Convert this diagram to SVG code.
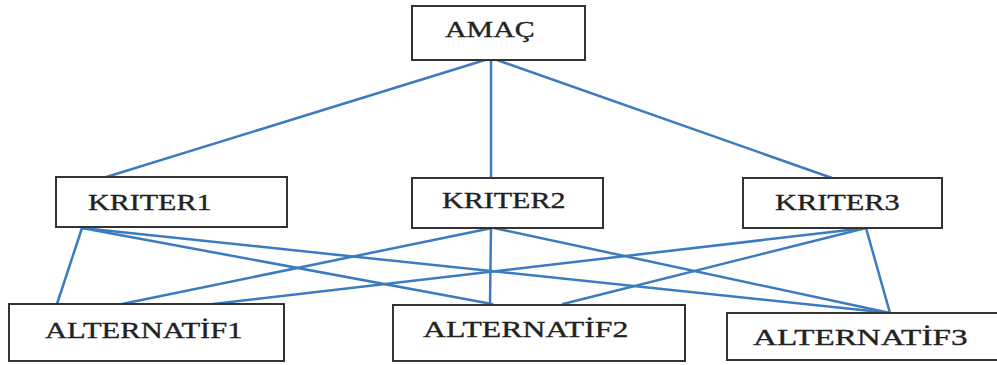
<svg xmlns="http://www.w3.org/2000/svg" width="997" height="365" viewBox="0 0 997 365">
<style>
.box{fill:#fff;stroke:#333;stroke-width:2}
.lbl{font-family:"Liberation Serif","Times New Roman",serif;font-size:23px;fill:#222;stroke:#222;stroke-width:0.35}
.alt{font-size:24px}
.edge{stroke:#3a7cbf;stroke-width:2.5;fill:none;stroke-linecap:round}
</style>
<rect width="997" height="365" fill="#fff"/>
<g id="connectors">
<line class="edge" x1="485" y1="60" x2="103" y2="178"/>
<line class="edge" x1="491" y1="60" x2="491" y2="178"/>
<line class="edge" x1="497" y1="60" x2="832" y2="178"/>
<line class="edge" x1="82" y1="228" x2="57" y2="304"/>
<line class="edge" x1="82" y1="228" x2="492" y2="304"/>
<line class="edge" x1="82" y1="228" x2="890" y2="313"/>
<line class="edge" x1="492" y1="228" x2="122" y2="304"/>
<line class="edge" x1="491" y1="228" x2="490" y2="304"/>
<line class="edge" x1="494" y1="228" x2="890" y2="313"/>
<line class="edge" x1="866" y1="228" x2="213" y2="304"/>
<line class="edge" x1="866" y1="228" x2="563" y2="304"/>
<line class="edge" x1="866" y1="228" x2="890" y2="313"/>
</g>
<g id="amac"><rect class="box" x="412" y="6" width="173" height="54"/><text class="lbl" transform="translate(445,37) scale(1.3,1)" textLength="69" lengthAdjust="spacingAndGlyphs">AMAÇ</text></g>
<g id="kriter1"><rect class="box" x="56" y="177" width="231" height="50"/><text class="lbl" transform="translate(88,210) scale(1.3,1)" textLength="95" lengthAdjust="spacingAndGlyphs">KRITER1</text></g>
<g id="kriter2"><rect class="box" x="412" y="178" width="191" height="50"/><text class="lbl" transform="translate(442,208) scale(1.3,1)" textLength="95" lengthAdjust="spacingAndGlyphs">KRITER2</text></g>
<g id="kriter3"><rect class="box" x="743" y="178" width="199" height="50"/><text class="lbl" transform="translate(775,210) scale(1.3,1)" textLength="96" lengthAdjust="spacingAndGlyphs">KRITER3</text></g>
<g id="alt1"><rect class="box" x="9" y="304" width="275" height="57"/><text class="lbl alt" transform="translate(45,338) scale(1.3,1)" textLength="152" lengthAdjust="spacingAndGlyphs">ALTERNATİF1</text></g>
<g id="alt2"><rect class="box" x="393" y="305" width="292" height="56"/><text class="lbl alt" transform="translate(423,337) scale(1.3,1)" textLength="158" lengthAdjust="spacingAndGlyphs">ALTERNATİF2</text></g>
<g id="alt3"><rect class="box" x="727" y="313" width="280" height="47"/><text class="lbl alt" transform="translate(753,345) scale(1.3,1)" textLength="165" lengthAdjust="spacingAndGlyphs">ALTERNATİF3</text></g>
</svg>
